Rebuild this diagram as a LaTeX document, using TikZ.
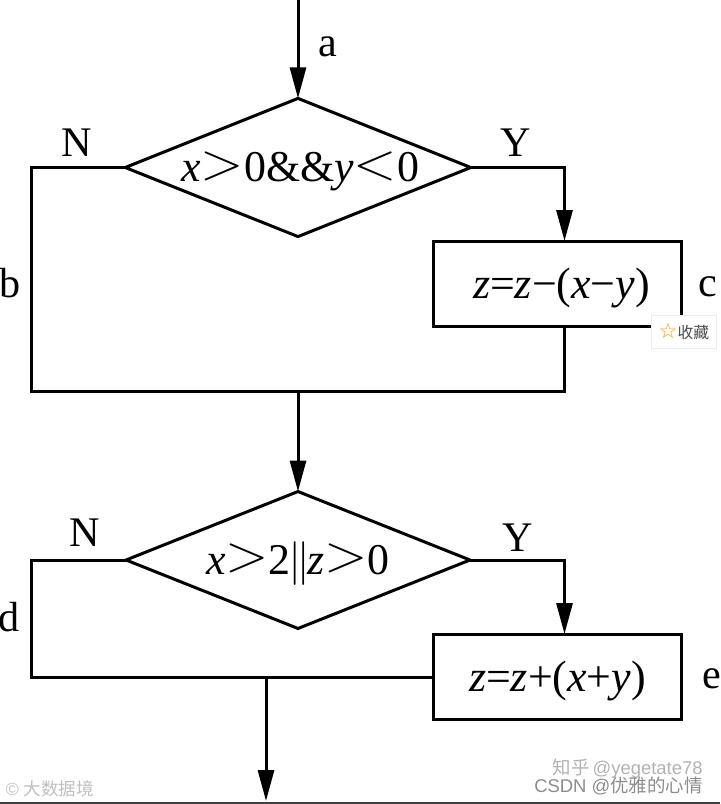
\documentclass[tikz,border=0pt]{standalone}
\usepackage{fontspec}
\setmainfont{Liberation Serif}
\newfontfamily\cjkfont{Noto Sans CJK SC}
\newfontfamily\markfont{Liberation Sans}
\newfontfamily\starfont{DejaVu Sans}
\usetikzlibrary{shapes.geometric,arrows.meta}
\newcommand{\gtmark}{\raisebox{0.06em}{\scalebox{1.3}[1.2]{$>$}}}
\newcommand{\ltmark}{\raisebox{0.06em}{\scalebox{1.3}[1.2]{$<$}}}
\begin{document}
\begin{tikzpicture}[x=0.02cm,y=-0.02cm,
	line/.style={line width=0.06cm,black},
	arrow/.style={line,-{Triangle[length=0.62cm,width=0.32cm]}},
	cond/.style={diamond,draw,line width=0.06cm,minimum width=6.88cm,minimum height=2.74cm,inner sep=0pt,outer sep=0pt,aspect=2.5,text height=20pt,text depth=3.5pt,font=\fontsize{25}{28}\selectfont},
	proc/.style={rectangle,draw,line width=0.06cm,minimum width=4.98cm,minimum height=1.72cm,inner sep=0pt,outer sep=0pt,text height=20pt,text depth=3.5pt,font=\fontsize{25}{28}\selectfont},
	lab/.style={inner sep=0pt,font=\fontsize{24}{28}\selectfont},
	wmark/.style={inner sep=0pt,text=black!45,font=\fontsize{10.5}{12}\selectfont}]
\useasboundingbox (0,0) rectangle (720,804);
% boxes
\node[cond](cond1) at (298,167.5){\hspace{0.1em}\textit{x}\gtmark 0\&\&\textit{y}\ltmark 0};
\node[proc](proc1) at (557.5,284){\hspace{0.18em}\textit{z}=\textit{z}−(\textit{x}−\textit{y})};
\node[cond](cond2) at (298,560){\textit{x}\gtmark 2\kern-0.06em$\|$\kern-0.06em\textit{z}\gtmark 0};
\node[proc](proc2) at (557.5,677){\textit{z}=\textit{z}+(\textit{x}+\textit{y})};
% free ends and corners
\coordinate(start) at (298,0);
\coordinate(leftA) at (31,391);
\coordinate(rightA) at (564.5,391);
\coordinate(merge) at (298,391);
\coordinate(leftB) at (31,677);
\coordinate(split) at (266,677);
\coordinate(finish) at (266,801);
\coordinate(bottomL) at (0,803);
\coordinate(bottomR) at (720,803);
% connectors
\draw[arrow](start)--(cond1.north);
\draw[line](cond1.west)-|(leftA)--(rightA)--(rightA|-proc1.south);
\draw[arrow](cond1.east)-|(rightA|-proc1.north);
\draw[arrow](merge)--(cond2.north);
\draw[line](cond2.west)-|(leftB)--(proc2.west);
\draw[arrow](cond2.east)-|(rightA|-proc2.north);
\draw[arrow](split)--(finish);
\draw[line width=0.04cm,black!75](bottomL)--(bottomR);
% labels
\node[lab](la) at (328,47){a};
\node[lab](lN1) at (77,143){N};
\node[lab](lY1) at (516,143){Y};
\node[lab](lb) at (10,283){b};
\node[lab](lc) at (708,287){c};
\node[lab](lN2) at (85,533){N};
\node[lab](lY2) at (518,538){Y};
\node[lab](ld) at (9,617){d};
\node[lab](le) at (712,679){e};
% overlays
\node[draw=black!8,fill=white,minimum width=1.3cm,minimum height=0.66cm,inner sep=0pt](fav) at (684,332){\fontsize{9}{11}\selectfont\textcolor{orange!80!yellow}{\fontsize{12}{12}\selectfont\starfont ☆}\textcolor{black!70}{\cjkfont 收藏}};
\node[wmark,text=black!30,anchor=east](zhihu) at (703,769){\cjkfont 知乎\,\markfont @yegetate78};
\node[wmark,anchor=east](csdn) at (703,786){\markfont CSDN @\cjkfont 优雅的心情};
\node[wmark,text=black!25,font=\fontsize{10}{10}\selectfont](logo) at (50,789){\markfont\textcopyright\ \cjkfont 大数据境};
\end{tikzpicture}
\end{document}
